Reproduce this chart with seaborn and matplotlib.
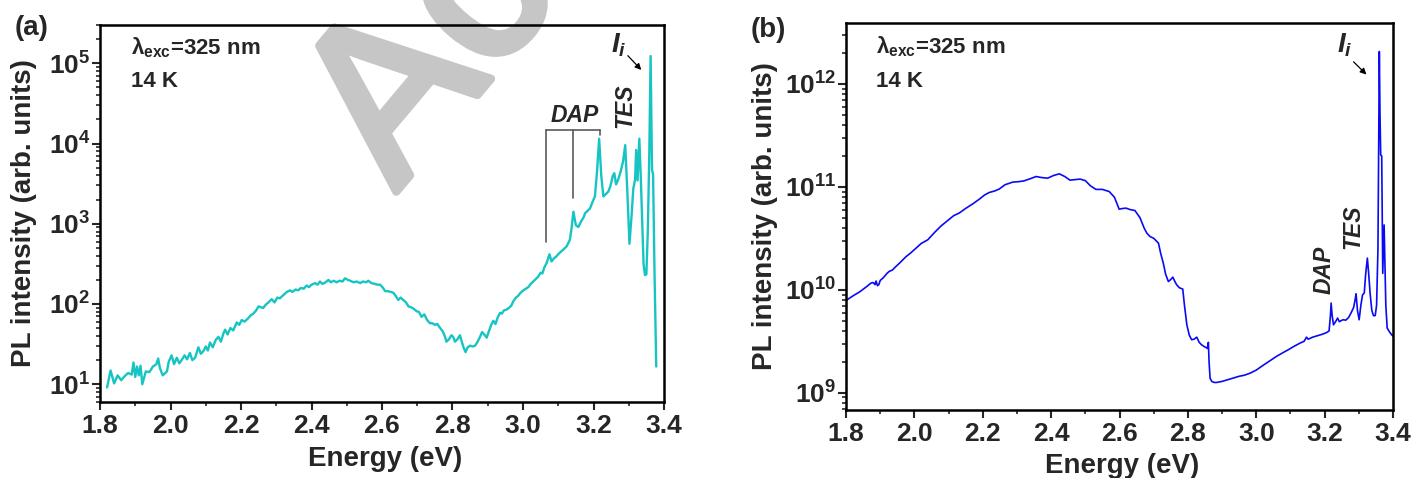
import numpy as np
import pandas as pd
import matplotlib
matplotlib.use("Agg")
import matplotlib.pyplot as plt
import matplotlib.patheffects as pe
from matplotlib.ticker import FuncFormatter, LogLocator, MultipleLocator, NullFormatter
import seaborn as sns

# ---------------- data (a) : energy (eV) and log10 PL intensity ----------------
energy_a = [1.82, 1.83, 1.84, 1.85, 1.86, 1.87, 1.88, 1.89, 1.895, 1.90, 1.905, 1.91, 1.915, 1.92,
            1.93, 1.94, 1.95, 1.96, 1.965, 1.97, 1.978, 1.985, 1.99, 1.995, 2.003, 2.01, 2.018, 2.025,
            2.03, 2.04, 2.047, 2.055, 2.062, 2.07, 2.079, 2.086, 2.093, 2.10, 2.106, 2.112, 2.12, 2.128,
            2.136, 2.143, 2.15, 2.155, 2.162, 2.17, 2.178, 2.188, 2.195, 2.202, 2.21, 2.22, 2.228, 2.235,
            2.243, 2.25, 2.256, 2.263, 2.27, 2.278, 2.287, 2.295, 2.303, 2.31, 2.32, 2.33, 2.339, 2.346,
            2.355, 2.362, 2.37, 2.378, 2.386, 2.393, 2.40, 2.41, 2.417, 2.424, 2.431, 2.44, 2.448, 2.455,
            2.463, 2.471, 2.48, 2.488, 2.495, 2.503, 2.51, 2.519, 2.528, 2.538, 2.546, 2.555, 2.561, 2.57,
            2.58, 2.588, 2.595, 2.603, 2.609, 2.617, 2.625, 2.632, 2.639, 2.646, 2.653, 2.66, 2.668, 2.675,
            2.682, 2.69, 2.698, 2.705, 2.712, 2.72, 2.728, 2.736, 2.743, 2.75, 2.757, 2.765, 2.772, 2.778,
            2.783, 2.79, 2.797, 2.802, 2.807, 2.814, 2.821, 2.827, 2.832, 2.837, 2.843, 2.85, 2.857, 2.864,
            2.87, 2.877, 2.884, 2.89, 2.897, 2.904, 2.91, 2.916, 2.922, 2.928, 2.935, 2.94, 2.946, 2.953,
            2.96, 2.967, 2.972, 2.98, 2.986, 2.993, 3.001, 3.008, 3.015, 3.022, 3.029, 3.036, 3.043, 3.05,
            3.055, 3.06, 3.067, 3.075, 3.081, 3.088, 3.094, 3.10, 3.107, 3.115, 3.124, 3.133, 3.138, 3.143,
            3.15, 3.157, 3.165, 3.172, 3.176, 3.183, 3.19, 3.198, 3.204, 3.21, 3.216, 3.222, 3.228, 3.235,
            3.242, 3.248, 3.255, 3.259, 3.264, 3.27, 3.277, 3.284, 3.29, 3.296, 3.302, 3.308, 3.313, 3.318,
            3.321, 3.325, 3.33, 3.334, 3.338, 3.342, 3.346, 3.35, 3.354, 3.358, 3.362, 3.366, 3.369, 3.373,
            3.376, 3.378]
log_intensity_a = [0.96, 1.17, 1.01, 1.11, 1.05, 1.10, 1.14, 1.12, 1.27, 1.09, 1.22, 1.11, 1.23, 1.00,
                   1.16, 1.15, 1.22, 1.25, 1.32, 1.20, 1.11, 1.14, 1.16, 1.28, 1.36, 1.25, 1.33, 1.26,
                   1.29, 1.36, 1.31, 1.39, 1.30, 1.33, 1.46, 1.38, 1.41, 1.47, 1.42, 1.52, 1.46, 1.55,
                   1.59, 1.53, 1.63, 1.68, 1.62, 1.70, 1.67, 1.77, 1.74, 1.80, 1.78, 1.82, 1.86, 1.88,
                   1.92, 1.97, 1.96, 1.95, 1.99, 2.02, 2.06, 2.02, 2.08, 2.07, 2.11, 2.15, 2.17, 2.15,
                   2.18, 2.17, 2.20, 2.19, 2.23, 2.21, 2.24, 2.26, 2.24, 2.28, 2.25, 2.27, 2.30, 2.27,
                   2.29, 2.27, 2.29, 2.28, 2.32, 2.30, 2.29, 2.27, 2.28, 2.26, 2.28, 2.27, 2.29, 2.26,
                   2.25, 2.24, 2.24, 2.20, 2.16, 2.16, 2.15, 2.14, 2.10, 2.05, 2.08, 2.05, 2.02, 1.97,
                   1.96, 1.94, 1.91, 1.90, 1.84, 1.87, 1.80, 1.76, 1.76, 1.74, 1.75, 1.70, 1.66, 1.60,
                   1.53, 1.56, 1.61, 1.59, 1.53, 1.56, 1.61, 1.52, 1.45, 1.40, 1.46, 1.48, 1.47, 1.48,
                   1.52, 1.58, 1.65, 1.62, 1.58, 1.67, 1.74, 1.79, 1.75, 1.83, 1.89, 1.88, 1.92, 1.93,
                   1.95, 1.98, 2.03, 2.08, 2.10, 2.14, 2.17, 2.19, 2.21, 2.25, 2.28, 2.31, 2.34, 2.39,
                   2.38, 2.45, 2.51, 2.62, 2.53, 2.57, 2.59, 2.62, 2.65, 2.68, 2.72, 2.80, 2.95, 3.15,
                   2.98, 2.96, 3.03, 3.08, 3.13, 3.16, 3.19, 3.28, 3.34, 3.65, 4.06, 3.60, 3.34, 3.37,
                   3.40, 3.47, 3.60, 3.63, 3.49, 3.55, 3.65, 3.78, 3.98, 3.40, 2.75, 3.10, 3.44, 3.55,
                   3.92, 3.54, 4.06, 3.60, 3.05, 2.50, 2.36, 2.37, 2.90, 3.80, 5.09, 3.67, 3.62, 2.42,
                   1.67, 1.22]

# ---------------- data (b) ----------------
energy_b = [1.80, 1.82, 1.84, 1.86, 1.873, 1.88, 1.885, 1.888, 1.892, 1.896, 1.90, 1.91, 1.92, 1.927,
            1.935, 1.946, 1.96, 1.975, 1.99, 2.005, 2.02, 2.039, 2.06, 2.078, 2.10, 2.115, 2.131, 2.15,
            2.171, 2.19, 2.205, 2.219, 2.235, 2.248, 2.265, 2.288, 2.305, 2.321, 2.34, 2.356, 2.372, 2.39,
            2.407, 2.424, 2.44, 2.455, 2.47, 2.485, 2.50, 2.515, 2.531, 2.55, 2.57, 2.585, 2.599, 2.61,
            2.619, 2.63, 2.645, 2.66, 2.672, 2.68, 2.689, 2.70, 2.714, 2.72, 2.728, 2.735, 2.743, 2.75,
            2.756, 2.762, 2.767, 2.775, 2.785, 2.79, 2.797, 2.804, 2.811, 2.818, 2.826, 2.833, 2.84, 2.847,
            2.853, 2.857, 2.86, 2.862, 2.865, 2.87, 2.877, 2.884, 2.90, 2.915, 2.933, 2.95, 2.965, 2.982,
            3.00, 3.015, 3.03, 3.045, 3.06, 3.079, 3.095, 3.11, 3.128, 3.14, 3.147, 3.152, 3.165, 3.18,
            3.195, 3.206, 3.213, 3.217, 3.219, 3.222, 3.226, 3.232, 3.238, 3.243, 3.248, 3.254, 3.262, 3.27,
            3.278, 3.285, 3.289, 3.292, 3.296, 3.301, 3.306, 3.311, 3.316, 3.32, 3.325, 3.329, 3.333, 3.338,
            3.343, 3.348, 3.352, 3.356, 3.36, 3.362, 3.364, 3.367, 3.37, 3.372, 3.374, 3.376, 3.379, 3.383,
            3.39, 3.396, 3.40]
log_intensity_b = [9.896, 9.94, 9.98, 10.03, 10.065, 10.07, 10.05, 10.085, 10.04, 10.05, 10.09, 10.12,
                   10.16, 10.18, 10.19, 10.226, 10.27, 10.32, 10.36, 10.405, 10.45, 10.485, 10.56, 10.62,
                   10.68, 10.72, 10.745, 10.79, 10.835, 10.88, 10.92, 10.945, 10.96, 10.978, 11.02, 11.046,
                   11.05, 11.058, 11.08, 11.10, 11.09, 11.084, 11.11, 11.126, 11.10, 11.065, 11.07, 11.075,
                   11.06, 11.01, 10.975, 10.975, 10.954, 10.90, 10.783, 10.79, 10.793, 10.78, 10.77, 10.70,
                   10.60, 10.55, 10.518, 10.50, 10.453, 10.36, 10.26, 10.15, 10.08, 10.10, 10.123, 10.08,
                   10.05, 10.02, 10.007, 9.85, 9.66, 9.56, 9.515, 9.52, 9.54, 9.49, 9.466, 9.45, 9.44, 9.43,
                   9.49, 9.30, 9.14, 9.11, 9.10, 9.10, 9.11, 9.125, 9.143, 9.16, 9.17, 9.19, 9.22, 9.255,
                   9.288, 9.32, 9.355, 9.391, 9.42, 9.45, 9.482, 9.50, 9.54, 9.52, 9.54, 9.555, 9.57, 9.585,
                   9.60, 9.75, 9.871, 9.75, 9.66, 9.69, 9.725, 9.69, 9.70, 9.709, 9.705, 9.73, 9.78, 9.83,
                   9.90, 9.961, 9.80, 9.709, 9.85, 9.951, 9.97, 10.15, 10.308, 10.15, 9.968, 9.80, 9.748,
                   9.75, 9.85, 10.4, 12.314, 11.7, 11.31, 11.30, 10.16, 10.4, 10.63, 10.3, 9.85, 9.628, 9.59,
                   9.563, 9.55]

dap_peaks_a = [3.064, 3.141, 3.218]          # bracket legs (eV)
dap_leg_bottoms_a = [596, 2065, 12700]        # where each leg ends (intensity)
dap_bar_level_a = 14900

x_ticks = [1.8, 2.0, 2.2, 2.4, 2.6, 2.8, 3.0, 3.2, 3.4]

df_a = pd.DataFrame({"E": energy_a, "I": np.power(10.0, log_intensity_a)})
df_b = pd.DataFrame({"E": energy_b, "I": np.power(10.0, log_intensity_b)})

# ---------------- style ----------------
sns.set_style("ticks")
plt.rcParams.update({
    "font.family": ["Liberation Sans", "DejaVu Sans"],
    "font.weight": "bold",
    "mathtext.fontset": "custom",
    "mathtext.rm": "Liberation Sans",
    "mathtext.bf": "Liberation Sans:bold",
    "mathtext.it": "Liberation Sans:italic",
    "mathtext.bfit": "Liberation Sans:italic:bold",
    "axes.linewidth": 1.8,
    "xtick.direction": "out",
    "ytick.direction": "out",
})

fig = plt.figure(figsize=(14.14, 4.78), dpi=100)

# watermark (partly outside the figure, as in the reference)
fig.text(396 / 1414, 1 - 192 / 478, "Accepted", fontsize=160, color="#c6c6c6",
         fontweight="normal", rotation=50, rotation_mode="anchor",
         ha="left", va="baseline", zorder=-1,
         path_effects=[pe.withStroke(linewidth=6, foreground="#c6c6c6")])

ax_a = fig.add_axes([100 / 1414, 1 - 402 / 478, 564 / 1414, 377 / 478])
ax_b = fig.add_axes([846 / 1414, 1 - 410 / 478, 547 / 1414, 387 / 478])

sns.lineplot(data=df_a, x="E", y="I", ax=ax_a, color="#17C4C4", linewidth=1.7, sort=False)
sns.lineplot(data=df_b, x="E", y="I", ax=ax_b, color="#0A0AF5", linewidth=1.2, sort=False)


def sci_fmt(v, pos):
    e = int(round(np.log10(v)))
    return r"$\mathbf{10^{%d}}$" % e


for ax, ylim, lab_x, xlab_y in [(ax_a, (6.0, 3.0e5), -0.112, -0.117),
                                (ax_b, (6.8e8, 3.9e12), -0.124, -0.111)]:
    ax.patch.set_alpha(0)
    ax.set_yscale("log")
    ax.set_xlim(1.8, 3.4)
    ax.set_ylim(*ylim)
    ax.set_xticks(x_ticks)
    ax.xaxis.set_minor_locator(MultipleLocator(0.1))
    ax.yaxis.set_major_locator(LogLocator(base=10, numticks=20))
    ax.yaxis.set_minor_locator(LogLocator(base=10, subs=np.arange(2, 10), numticks=20))
    ax.yaxis.set_major_formatter(FuncFormatter(sci_fmt))
    ax.yaxis.set_minor_formatter(NullFormatter())
    ax.tick_params(axis="both", which="major", length=5.5, width=1.5, labelsize=19, pad=3)
    ax.tick_params(axis="both", which="minor", length=2.8, width=1.2)
    ax.tick_params(axis="y", which="major", pad=1.5)
    for lbl in ax.get_xticklabels():
        lbl.set_fontweight("bold")
    for sp in ax.spines.values():
        sp.set_visible(True)
        sp.set_linewidth(1.8)
        sp.set_color("black")
    ax.set_xlabel("Energy (eV)", fontsize=20, fontweight="bold")
    ax.set_ylabel("PL intensity (arb. units)", fontsize=20, fontweight="bold")
    ax.yaxis.set_label_coords(lab_x, 0.5)
    ax.xaxis.set_label_coords(0.505, xlab_y)
    ax.xaxis.label.set_va("top")
    ax.text(0.055, 0.939, r"$\mathrm{\lambda}_{\mathbf{exc}}$=325 nm", transform=ax.transAxes,
            fontsize=16, fontweight="bold", ha="left", va="center")
    ax.text(0.055, 0.849, "14 K", transform=ax.transAxes,
            fontsize=16, fontweight="bold", ha="left", va="center")

# panel letters
fig.text(32 / 1414, 1 - 28 / 478, "(a)", fontsize=20, fontweight="bold", ha="center", va="center")
fig.text(768 / 1414, 1 - 30 / 478, "(b)", fontsize=20, fontweight="bold", ha="center", va="center")

# annotations (a)
gray = "#5a5a5a"
ax_a.plot([dap_peaks_a[0], dap_peaks_a[-1]], [dap_bar_level_a, dap_bar_level_a], color=gray, lw=1.2)
for e, b in zip(dap_peaks_a, dap_leg_bottoms_a):
    ax_a.plot([e, e], [dap_bar_level_a, b], color=gray, lw=1.2)
ax_a.text(3.148, 10 ** 4.352, "DAP", fontsize=16.5, fontweight="bold", fontstyle="italic",
          ha="center", va="center")
ax_a.text(3.289, 10 ** 4.47, "TES", fontsize=16.5, fontweight="bold", fontstyle="italic",
          ha="center", va="center", rotation=90)
ax_a.text(3.272, 10 ** 5.224, r"$\mathbfit{I}_{\mathbfit{i}}$", fontsize=20, ha="center", va="center")
ax_a.annotate("", xy=(3.341, 10 ** 4.892), xytext=(3.292, 10 ** 5.12),
              arrowprops=dict(arrowstyle="-|>", color="black", lw=0.9, mutation_scale=9))

# annotations (b)
ax_b.text(3.198, 10 ** 10.194, "DAP", fontsize=16.5, fontweight="bold", fontstyle="italic",
          ha="center", va="center", rotation=90)
ax_b.text(3.284, 10 ** 10.615, "TES", fontsize=16.5, fontweight="bold", fontstyle="italic",
          ha="center", va="center", rotation=90)
ax_b.text(3.259, 10 ** 12.379, r"$\mathbfit{I}_{\mathbfit{i}}$", fontsize=20, ha="center", va="center")
ax_b.annotate("", xy=(3.328, 10 ** 12.071), xytext=(3.279, 10 ** 12.233),
              arrowprops=dict(arrowstyle="-|>", color="black", lw=0.9, mutation_scale=9))

fig.savefig("out.png", dpi=100)
